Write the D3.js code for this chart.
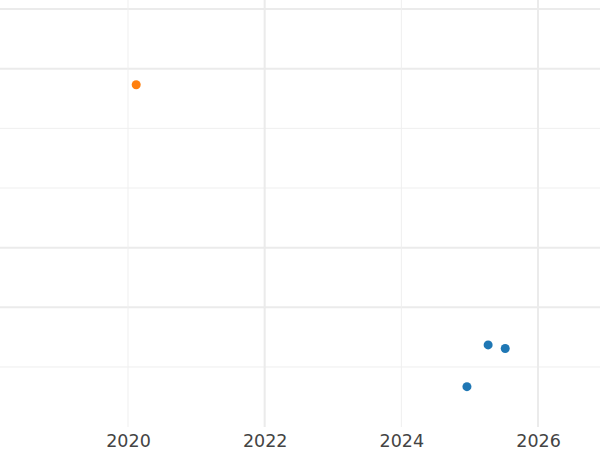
<!DOCTYPE html>
<html>
<head>
<meta charset="utf-8">
<script src="https://cdn.jsdelivr.net/npm/d3@7"></script>
<style>
  body { margin: 0; background: #fff; }
  svg { display: block; }
</style>
</head>
<body>
<div id="canvas"></div>
<script>
// data
const orangeX = [2020.12];
const orangeY = [4.73];
const blueX = [2024.96, 2025.27, 2025.52];
const blueY = [-0.33, 0.37, 0.31];

const xTickLabels = [2020, 2022, 2024, 2026];
const xMajorGrid = [2022, 2026];
const xMinorGrid = [2020, 2024];
const yMajorGrid = [1, 2, 5, 6];
const yMinorGrid = [0, 3, 4];

const width = 600, height = 450;
const plotBottom = 427;

let svg = d3.select("#canvas")
  .append("svg")
  .attr("width", width)
  .attr("height", height);

let x = d3.scaleLinear()
  .domain([2018.127, 2026.907])
  .range([0, width]);

let y = d3.scaleLinear()
  .domain([-1.006, 6.151])
  .range([plotBottom, 0]);

// grid lines
let grid = svg.append("g");

grid.selectAll(".ymin")
  .data(yMinorGrid)
  .enter().append("line")
  .attr("x1", 0).attr("x2", width)
  .attr("y1", d => y(d)).attr("y2", d => y(d))
  .attr("stroke", "#efefef")
  .attr("stroke-width", 1);

grid.selectAll(".ymaj")
  .data(yMajorGrid)
  .enter().append("line")
  .attr("x1", 0).attr("x2", width)
  .attr("y1", d => y(d)).attr("y2", d => y(d))
  .attr("stroke", "#ebebeb")
  .attr("stroke-width", 2);

grid.selectAll(".xmin")
  .data(xMinorGrid)
  .enter().append("line")
  .attr("x1", d => x(d)).attr("x2", d => x(d))
  .attr("y1", 0).attr("y2", plotBottom)
  .attr("stroke", "#efefef")
  .attr("stroke-width", 1);

grid.selectAll(".xmaj")
  .data(xMajorGrid)
  .enter().append("line")
  .attr("x1", d => x(d)).attr("x2", d => x(d))
  .attr("y1", 0).attr("y2", plotBottom)
  .attr("stroke", "#ebebeb")
  .attr("stroke-width", 2);

// x axis labels
let xAxis = svg.append("g")
  .attr("transform", "translate(0," + plotBottom + ")")
  .call(d3.axisBottom(x).tickValues(xTickLabels).tickFormat(d3.format("d")).tickSize(0).tickPadding(8));
xAxis.select(".domain").remove();
xAxis.selectAll("text")
  .attr("font-family", "DejaVu Sans, sans-serif")
  .attr("font-size", "17.5px")
  .attr("fill", "#444");

// points
svg.append("g").selectAll("circle")
  .data(blueX.map((d, i) => [d, blueY[i]]))
  .enter().append("circle")
  .attr("cx", d => x(d[0]))
  .attr("cy", d => y(d[1]))
  .attr("r", 4.5)
  .attr("fill", "#1f77b4");

svg.append("g").selectAll("circle")
  .data(orangeX.map((d, i) => [d, orangeY[i]]))
  .enter().append("circle")
  .attr("cx", d => x(d[0]))
  .attr("cy", d => y(d[1]))
  .attr("r", 4.5)
  .attr("fill", "#ff7f0e");
</script>
</body>
</html>
